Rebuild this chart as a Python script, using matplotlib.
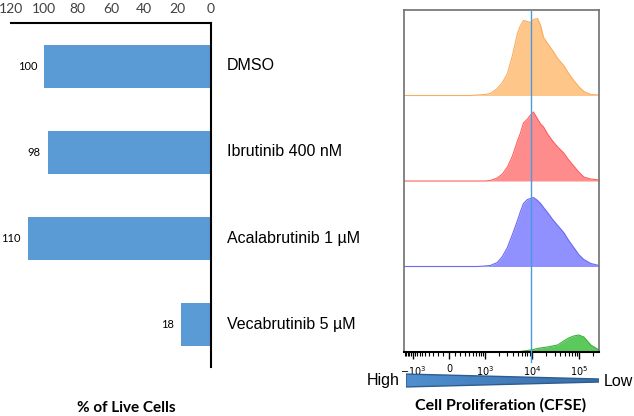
import numpy as np
import matplotlib
matplotlib.use('Agg')
import matplotlib.pyplot as plt
from matplotlib.patches import Polygon

# left panel: viability
treatments = ['DMSO', 'Ibrutinib 400 nM', 'Acalabrutinib 1 µM', 'Vecabrutinib 5 µM']
live_pct = [100, 98, 110, 18]

# right panel: CFSE histograms (intensity grid and normalised counts per row)
cfse_bins = [-1560, 430, 650, 990, 1280, 1820, 2340, 3000, 3830, 4900, 5680, 6570,
             7990, 9280, 10740, 13080, 15150, 17540, 21300, 27300, 34900, 46800,
             59800, 76400, 97300, 124700, 175800, 262000]
dmso_counts = [0, 0, 0.5, 1, 2, 7, 13, 22, 40, 62, 70, 75, 74, 73, 76, 77, 70, 58,
               52, 45, 37, 30, 22, 15, 9, 4, 1, 0.5]
ibru_counts = [0, 0, 0, 0, 0.5, 3, 7, 14, 25, 40, 48, 58, 62, 66, 69, 62, 57, 54,
               47, 40, 34, 28, 21, 15, 9, 4, 2, 1]
acala_counts = [0, 0, 0, 0.5, 1, 4, 10, 19, 32, 46, 55, 63, 67, 68, 69, 66, 63, 59,
                54, 47, 41, 34, 26, 19, 12, 7, 3, 1]
veca_counts = [0, 0, 0, 0, 0, 0, 0, 0, 0, 0, 0.5, 1, 1.5, 2, 2.5, 3.5, 4, 4.5, 5,
               6, 7, 11, 14, 16, 17, 15, 7, 2]
gate_pos = 9280
cfse_ticks = [-1000, 0, 1000, 10000, 100000]
cfse_ticklabels = [r'$-10^3$', '0', r'$10^3$', r'$10^4$', r'$10^5$']

W, H = 634, 416
fig = plt.figure(figsize=(W / 100, H / 100), dpi=100)

# ---- bar chart
ax = fig.add_axes([11 / W, 1 - 367 / H, 200 / W, 344 / H])
ypos = np.arange(len(treatments))
ax.barh(ypos, live_pct, height=0.5, color='#5B9BD5')
ax.set_xlim(120, 0)
ax.set_ylim(3.5, -0.5)
ax.xaxis.tick_top()
ax.set_xticks([120, 100, 80, 60, 40, 20, 0])
ax.tick_params(axis='x', length=0, pad=6, labelsize=10, labelcolor='#404040')
for lab in ax.get_xticklabels():
    lab.set_family('Lato')
ax.set_yticks([])
for s in ['left', 'bottom']:
    ax.spines[s].set_visible(False)
ax.spines['top'].set_linewidth(1.5)
ax.spines['right'].set_linewidth(1.5)
for i in ypos:
    ax.annotate(str(live_pct[i]), (live_pct[i], i), xytext=(-7, 0),
                textcoords='offset pixels', ha='right', va='center',
                fontsize=8, family='Lato')
    ax.annotate(treatments[i], (0, i), xytext=(16, 0), textcoords='offset pixels',
                ha='left', va='center', fontsize=11.5, family='Liberation Sans',
                annotation_clip=False)

# ---- CFSE histograms
ax2 = fig.add_axes([404 / W, 1 - 352 / H, 195 / W, 342 / H])
ax2.set_xscale('asinh', linear_width=350)
ax2.set_xlim(-1560, 262000)
ax2.set_ylim(0, 4)
rows = [(veca_counts, '#5CC95C', '#3BAF3B'),
        (acala_counts, '#9090FF', '#6A6AF0'),
        (ibru_counts, '#FF8C8C', '#FF6060'),
        (dmso_counts, '#FFC68A', '#F7AE62')]
for k, (cnt, fc, ec) in enumerate(rows):
    y = np.array(cnt) / 85.5 + k
    ax2.fill_between(cfse_bins, k, y, color=fc, lw=0)
    ax2.plot(cfse_bins, y, color=ec, lw=0.8)
ax2.axvline(gate_pos, ymin=-0.03, ymax=1, color='#4A9AE0', lw=1, clip_on=False, zorder=5)
ax2.set_yticks([])
ax2.set_xticks(cfse_ticks)
ax2.set_xticklabels(cfse_ticklabels)
for lab in ax2.get_xticklabels():
    lab.set_horizontalalignment('left')
    lab.set_x(lab.get_position()[0])
minor = list(np.arange(-1500, -1000, 100)) + list(np.arange(-900, 1000, 100)) + \
    list(np.arange(2000, 10000, 1000)) + list(np.arange(20000, 100000, 10000)) + [200000]
ax2.set_xticks(minor, minor=True)
ax2.tick_params(axis='x', which='major', length=5, width=1, labelsize=7, pad=4)
ax2.tick_params(axis='x', which='minor', length=3, width=0.8)
for lab in ax2.get_xticklabels():
    lab.set_horizontalalignment('center')
for s in ['top', 'left', 'right']:
    ax2.spines[s].set_color('#707070')
    ax2.spines[s].set_linewidth(1.2)
ax2.spines['bottom'].set_linewidth(1.5)

# ---- High/Low gradient wedge
ax3 = fig.add_axes([406 / W, 1 - 388 / H, 193 / W, 15 / H])
ax3.set_xlim(0, 1)
ax3.set_ylim(0, 1)
ax3.axis('off')
grad = np.linspace(0, 1, 256).reshape(1, -1)
cmap = matplotlib.colors.LinearSegmentedColormap.from_list('w', ['#4F8FD0', '#3A6EA8'])
im = ax3.imshow(grad, extent=[0, 1, 0, 1], aspect='auto', cmap=cmap)
wedge = Polygon([[0, 0.93], [1, 0.6], [1, 0.4], [0, 0.07]], closed=True,
                facecolor='none', edgecolor='#2D5D8F', lw=1)
ax3.add_patch(wedge)
im.set_clip_path(wedge)

fig.text(400 / W, 1 - 381 / H, 'High', ha='right', va='center', fontsize=11.5,
         family='Liberation Sans')
fig.text(604 / W, 1 - 381 / H, 'Low', ha='left', va='center', fontsize=11.5,
         family='Liberation Sans')
fig.text(126 / W, 1 - 408 / H, '% of Live Cells', ha='center', va='center',
         fontsize=11, fontweight='bold', family='Lato')
fig.text(501 / W, 1 - 405 / H, 'Cell Proliferation (CFSE)', ha='center', va='center',
         fontsize=11.5, fontweight='bold', family='Lato')

fig.savefig('out.png', dpi=100)
